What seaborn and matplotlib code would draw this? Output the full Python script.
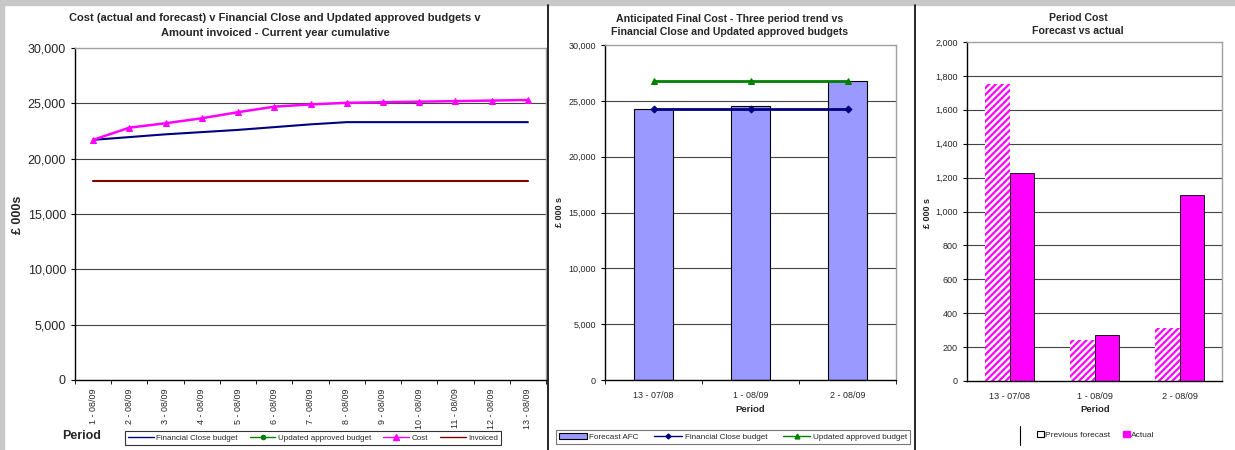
import numpy as np
import pandas as pd
import matplotlib
matplotlib.use("Agg")
import matplotlib.pyplot as plt
from matplotlib.ticker import FuncFormatter, FixedLocator
from matplotlib.lines import Line2D
from matplotlib.patches import Patch, Rectangle
import seaborn as sns

# --- data ---
periods_year = [f"{i} - 08/09" for i in range(1, 14)]
fc_budget_year = [21700, 21950, 22200, 22400, 22600, 22850, 23100, 23300,
                  23300, 23300, 23300, 23300, 23300]
cost_year = [21700, 22800, 23200, 23650, 24200, 24700, 24900, 25050,
             25100, 25150, 25200, 25250, 25300]
invoiced_year = [18000] * 13

periods_trend = ["13 - 07/08", "1 - 08/09", "2 - 08/09"]
forecast_afc = [24300, 24500, 26800]
fc_budget_trend = [24300, 24300, 24300]
updated_budget_trend = [26800, 26800, 26800]

periods_cost = ["13 - 07/08", "1 - 08/09", "2 - 08/09"]
previous_forecast = [1750, 240, 310]
actual_cost = [1230, 270, 1100]

NAVY = "#000080"
MAGENTA = "#FF00FF"
GREEN = "#008000"
DARKRED = "#800000"
PERI = "#9999FF"

sns.set_style("white")
plt.rcParams["font.family"] = ["Liberation Sans", "DejaVu Sans"]
plt.rcParams["hatch.linewidth"] = 1.6

W, H = 1235, 450
fig = plt.figure(figsize=(W / 100, H / 100), dpi=100)
fig.patch.set_facecolor("white")


def px(l, t, r, b):
    return [l / W, 1 - b / H, (r - l) / W, (b - t) / H]


def fx(x):
    return x / W


def fy(y):
    return 1 - y / H


comma = FuncFormatter(lambda v, p: f"{v:,.0f}")

# frame decoration: gray band at top/left, black separators
fig.patches.append(Rectangle((0, fy(5)), 1, 5 / H, transform=fig.transFigure,
                             color="#c8c8c8", zorder=0))
fig.patches.append(Rectangle((0, 0), 4 / W, 1, transform=fig.transFigure,
                             color="#c8c8c8", zorder=0))
for xs in (548, 915):
    fig.add_artist(Line2D([fx(xs), fx(xs)], [0, fy(5)], transform=fig.transFigure,
                          color="black", lw=1.2))


def style_axes(ax, grid_ticks, tick_fs):
    ax.set_facecolor("white")
    ax.yaxis.set_major_formatter(comma)
    for t in grid_ticks[1:-1]:
        ax.axhline(t, color="#444444", lw=0.8, zorder=0)
    for s in ("top", "right"):
        ax.spines[s].set_color("#a0a0a0")
        ax.spines[s].set_linewidth(1.0)
    for s in ("left", "bottom"):
        ax.spines[s].set_color("black")
        ax.spines[s].set_linewidth(1.0)
    ax.tick_params(axis="y", labelsize=tick_fs, length=3, color="black", direction="out", left=True)
    ax.tick_params(axis="x", length=3, color="black", direction="out", bottom=True)
    ax.set_xlabel("")
    ax.set_ylabel("")


# ---------------- left chart ----------------
ax1 = fig.add_axes(px(75, 48, 546, 380))
x13 = np.arange(len(periods_year))
sns.lineplot(x=x13, y=invoiced_year, ax=ax1, color=DARKRED, lw=1.5)
sns.lineplot(x=x13, y=fc_budget_year, ax=ax1, color=NAVY, lw=1.5)
sns.lineplot(x=x13, y=cost_year, ax=ax1, color=MAGENTA, lw=1.8, marker="^",
             markersize=5, markeredgecolor=MAGENTA)
ax1.set_xlim(-0.5, len(periods_year) - 0.5)
ax1.set_ylim(0, 30000)
ax1.set_yticks(np.arange(0, 30001, 5000))
style_axes(ax1, list(np.arange(0, 30001, 5000)), 9)
ax1.set_xticks(x13)
ax1.set_xticklabels(periods_year, rotation=90, fontsize=6.4)
ax1.tick_params(axis="x", length=0, pad=6)
ax1.xaxis.set_minor_locator(FixedLocator(np.arange(-0.5, 13, 1)))
ax1.tick_params(axis="x", which="minor", length=3, color="black", bottom=True)
if ax1.get_legend():
    ax1.get_legend().remove()

fig.text(fx(275), fy(18), "Cost (actual and forecast) v Financial Close and Updated approved budgets v",
         ha="center", va="center", fontsize=8, fontweight="bold")
fig.text(fx(275), fy(33), "Amount invoiced - Current year cumulative",
         ha="center", va="center", fontsize=8, fontweight="bold")
fig.text(fx(18), fy(215), "£ 000s", rotation=90, ha="center", va="center",
         fontsize=9, fontweight="bold")
fig.text(fx(82), fy(436), "Period", ha="center", va="center", fontsize=9, fontweight="bold")

h_left = [Line2D([], [], color=NAVY, lw=1),
          Line2D([], [], color=GREEN, lw=1, marker="o", markersize=3),
          Line2D([], [], color=MAGENTA, lw=1, marker="^", markersize=4),
          Line2D([], [], color=DARKRED, lw=1)]
l_left = ["Financial Close budget", "Updated approved budget", "Cost", "Invoiced"]
leg1 = fig.legend(h_left, l_left, loc="center", bbox_to_anchor=(fx(313), fy(438)),
                  ncol=4, fontsize=5.8, frameon=True, fancybox=False, edgecolor="black",
                  handlelength=3.2, columnspacing=1.5, borderpad=0.4, handletextpad=0.3)
leg1.get_frame().set_linewidth(0.8)

# ---------------- middle chart ----------------
ax2 = fig.add_axes(px(605, 45, 896, 380))
sns.barplot(x=periods_trend, y=forecast_afc, ax=ax2, color=PERI, saturation=1,
            edgecolor="black", linewidth=0.8, width=0.4, zorder=2)
x3 = np.arange(len(periods_trend))
sns.lineplot(x=x3, y=fc_budget_trend, ax=ax2, color=NAVY, lw=2, marker="D",
             markersize=3.5, markeredgecolor=NAVY, zorder=3)
sns.lineplot(x=x3, y=updated_budget_trend, ax=ax2, color=GREEN, lw=2, marker="^",
             markersize=4.5, markeredgecolor=GREEN, zorder=3)
ax2.set_xlim(-0.5, 2.5)
ax2.set_ylim(0, 30000)
ax2.set_yticks(np.arange(0, 30001, 5000))
style_axes(ax2, list(np.arange(0, 30001, 5000)), 6.5)
ax2.set_xticks(x3)
ax2.set_xticklabels(periods_trend, fontsize=6.4)
ax2.tick_params(axis="x", length=0, pad=8)
ax2.xaxis.set_minor_locator(FixedLocator([-0.5, 0.5, 1.5, 2.5]))
ax2.tick_params(axis="x", which="minor", length=3, color="black", bottom=True)
if ax2.get_legend():
    ax2.get_legend().remove()

fig.text(fx(730), fy(19), "Anticipated Final Cost - Three period trend vs",
         ha="center", va="center", fontsize=7.6, fontweight="bold")
fig.text(fx(730), fy(32), "Financial Close and Updated approved budgets",
         ha="center", va="center", fontsize=7.6, fontweight="bold")
fig.text(fx(560), fy(212), "£ 000 s", rotation=90, ha="center", va="center",
         fontsize=6.5, fontweight="bold")
fig.text(fx(750), fy(410), "Period", ha="center", va="center", fontsize=6.8, fontweight="bold")

h_mid = [Patch(facecolor=PERI, edgecolor="black", lw=0.8),
         Line2D([], [], color=NAVY, lw=1, marker="D", markersize=2.5),
         Line2D([], [], color=GREEN, lw=1, marker="^", markersize=3.5)]
l_mid = ["Forecast AFC", "Financial Close budget", "Updated approved budget"]
leg2 = fig.legend(h_mid, l_mid, loc="center", bbox_to_anchor=(fx(733), fy(437)),
                  ncol=3, fontsize=5.9, frameon=True, fancybox=False, edgecolor="#555555",
                  handlelength=3.4, columnspacing=1.9, borderpad=0.4, handletextpad=0.3)
leg2.get_frame().set_linewidth(0.8)

# ---------------- right chart ----------------
ax3 = fig.add_axes(px(967, 42, 1222, 381))
df_cost = pd.DataFrame({
    "period": periods_cost * 2,
    "value": previous_forecast + actual_cost,
    "series": ["Previous forecast"] * 3 + ["Actual"] * 3,
})
sns.barplot(data=df_cost, x="period", y="value", hue="series", ax=ax3,
            palette=[MAGENTA, MAGENTA], saturation=1, width=0.57, gap=0,
            edgecolor="black", linewidth=0.6, zorder=2)
for bar in ax3.patches[:3]:
    bar.set_facecolor("white")
    bar.set_edgecolor(MAGENTA)
    bar.set_hatch("/////")
    bar.set_linewidth(0.0)
ax3.set_xlim(-0.5, 2.5)
ax3.set_ylim(0, 2000)
ax3.set_yticks(np.arange(0, 2001, 200))
style_axes(ax3, list(np.arange(0, 2001, 200)), 6.5)
ax3.set_xticks(x3)
ax3.set_xticklabels(periods_cost, fontsize=6.6)
ax3.tick_params(axis="x", length=0, pad=8)
if ax3.get_legend():
    ax3.get_legend().remove()

fig.text(fx(1078), fy(18), "Period Cost", ha="center", va="center", fontsize=7.6, fontweight="bold")
fig.text(fx(1078), fy(31), "Forecast vs actual", ha="center", va="center",
         fontsize=7.6, fontweight="bold")
fig.text(fx(927), fy(213), "£ 000 s", rotation=90, ha="center", va="center",
         fontsize=6.5, fontweight="bold")
fig.text(fx(1095), fy(410), "Period", ha="center", va="center", fontsize=6.8, fontweight="bold")

h_right = [Patch(facecolor="white", edgecolor="black", lw=0.8),
           Patch(facecolor=MAGENTA, edgecolor=MAGENTA)]
l_right = ["Previous forecast", "Actual"]
fig.legend(h_right, l_right, loc="center", bbox_to_anchor=(fx(1096), fy(435)),
           ncol=2, fontsize=6, frameon=False, handlelength=0.8, handleheight=0.8,
           columnspacing=1.5, handletextpad=0.2)
fig.add_artist(Line2D([fx(1020), fx(1020)], [fy(445), fy(426)], transform=fig.transFigure,
                      color="black", lw=0.8))

fig.savefig("out.png", dpi=100, facecolor=fig.get_facecolor())
